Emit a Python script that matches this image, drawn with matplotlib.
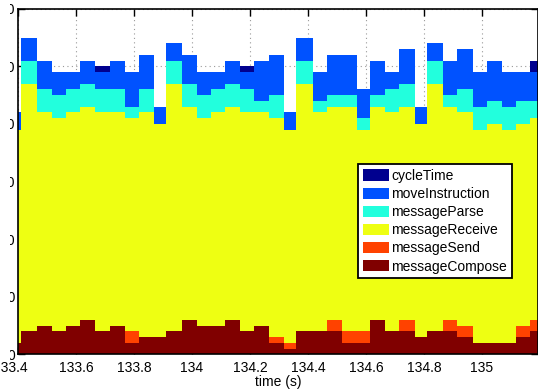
import numpy as np
import matplotlib
matplotlib.use("Agg")
import matplotlib.pyplot as plt
from matplotlib.transforms import Bbox, ScaledTranslation

plt.rcParams['font.family'] = ['Liberation Sans', 'DejaVu Sans']

# time stamps (s) of the bin edges
t_edges = [133.36, 133.410, 133.466, 133.518, 133.567, 133.615, 133.667, 133.716,
           133.768, 133.816, 133.869, 133.910, 133.966, 134.017, 134.066, 134.115,
           134.166, 134.215, 134.267, 134.318, 134.360, 134.416, 134.464, 134.516,
           134.568, 134.614, 134.666, 134.715, 134.769, 134.809, 134.864, 134.914,
           134.968, 135.017, 135.069, 135.117, 135.166, 135.214]

messageCompose = [2, 4, 5, 4, 5, 6, 4, 5, 2, 3, 3, 4, 6, 5, 5, 6, 4, 5, 2, 1, 4, 4, 4, 2,
                  2, 6, 4, 4, 3, 4, 4, 3, 2, 2, 2, 3, 4]
messageSend = [0, 0, 0, 0, 0, 0, 0, 0, 2, 0, 0, 0, 0, 0, 0, 0, 0, 0, 1, 1, 0, 0, 2, 2,
               2, 0, 0, 2, 0, 0, 2, 2, 0, 0, 0, 2, 2]
messageReceive = [37, 43, 37, 37, 37, 37, 38, 37, 37, 39, 37, 43, 37, 36, 37, 37, 38, 37,
                  38, 37, 43, 38, 37, 39, 35, 37, 38, 37, 37, 43, 37, 37, 37, 38, 37, 35, 35]
messageParse = [0, 4, 4, 4, 4, 4, 4, 4, 2, 4, 0, 4, 4, 4, 4, 4, 4, 2, 4, 0, 4, 2, 2, 2,
                2, 2, 4, 4, 0, 4, 2, 4, 4, 4, 4, 4, 3]
moveInstruction = [3, 4, 5, 4, 3, 4, 3, 5, 6, 6, 3, 3, 5, 4, 3, 4, 3, 7, 7, 3, 4, 5, 7, 7,
                   5, 6, 3, 6, 3, 3, 6, 7, 6, 7, 6, 5, 5]
cycleTime = [0, 0, 0, 0, 0, 0, 1, 0, 0, 0, 0, 0, 0, 0, 0, 0, 1, 0, 0, 0, 0, 0, 0, 0,
             0, 0, 0, 0, 0, 0, 0, 0, 0, 0, 0, 0, 2]

x_ticks = [133.4, 133.6, 133.8, 134.0, 134.2, 134.4, 134.6, 134.8, 135.0]
x_tick_labels = ["133.4", "133.6", "133.8", "134", "134.2", "134.4", "134.6", "134.8", "135"]
y_ticks = [0, 10, 20, 30, 40, 50, 60]

series = [
    ("messageCompose", messageCompose, "#800000"),
    ("messageSend", messageSend, "#FF4200"),
    ("messageReceive", messageReceive, "#EEFF12"),
    ("messageParse", messageParse, "#22FFDD"),
    ("moveInstruction", moveInstruction, "#0052FF"),
    ("cycleTime", cycleTime, "#00008F"),
]

fig = plt.figure(figsize=(5.38, 3.90), dpi=100)
ax = fig.add_axes([18 / 538, (390 - 354.3) / 390, 520 / 538, 345.5 / 390])

edges = np.array(t_edges)
base = np.zeros(len(edges) - 1)
handles = []
for name, vals, col in series:
    top = base + np.array(vals, dtype=float)
    h = ax.stairs(top, edges, baseline=base, fill=True, color=col, linewidth=0,
                  label=name, zorder=2)
    handles.append(h)
    base = top

ax.set_xlim(133.4, 133.4 + 520 / 290)
ax.set_ylim(0, 60)
ax.set_xticks(x_ticks)
ax.set_xticklabels(x_tick_labels)
ax.set_yticks(y_ticks)
ax.set_axisbelow(True)
ax.grid(True, linestyle=(0, (1, 3)), color="#999999", linewidth=0.8)
ax.tick_params(direction="in", top=True, right=True, length=5, labelsize=10, width=1)
ax.tick_params(axis="y", pad=2)
ax.tick_params(axis="x", pad=5)
for s in ax.spines.values():
    s.set_linewidth(1.2)
ax.set_xlabel("time (s)", fontsize=10, labelpad=0)

leg = ax.legend(handles[::-1], [s[0] for s in series][::-1], loc="upper left",
                bbox_to_anchor=(0.654, 0.551), fancybox=False, framealpha=1,
                edgecolor="black", fontsize=10, handlelength=1.9, handleheight=0.85,
                handletextpad=0.15, labelspacing=0.3, borderpad=0.35, borderaxespad=0)
leg.get_frame().set_linewidth(1.3)

fig.canvas.draw()
# the reference shows the y tick labels cut at the left margin
clip = Bbox.from_extents(9.5, 0, 538, 390)
for tk in ax.yaxis.get_major_ticks():
    tk.label1.set_clip_box(clip)
    tk.label1.set_clip_on(True)
# first x label sits shifted to the left in the reference
first = ax.xaxis.get_major_ticks()[0].label1
first.set_transform(first.get_transform() + ScaledTranslation(-8 / 100, 0, fig.dpi_scale_trans))

fig.savefig("out.png", dpi=100)
